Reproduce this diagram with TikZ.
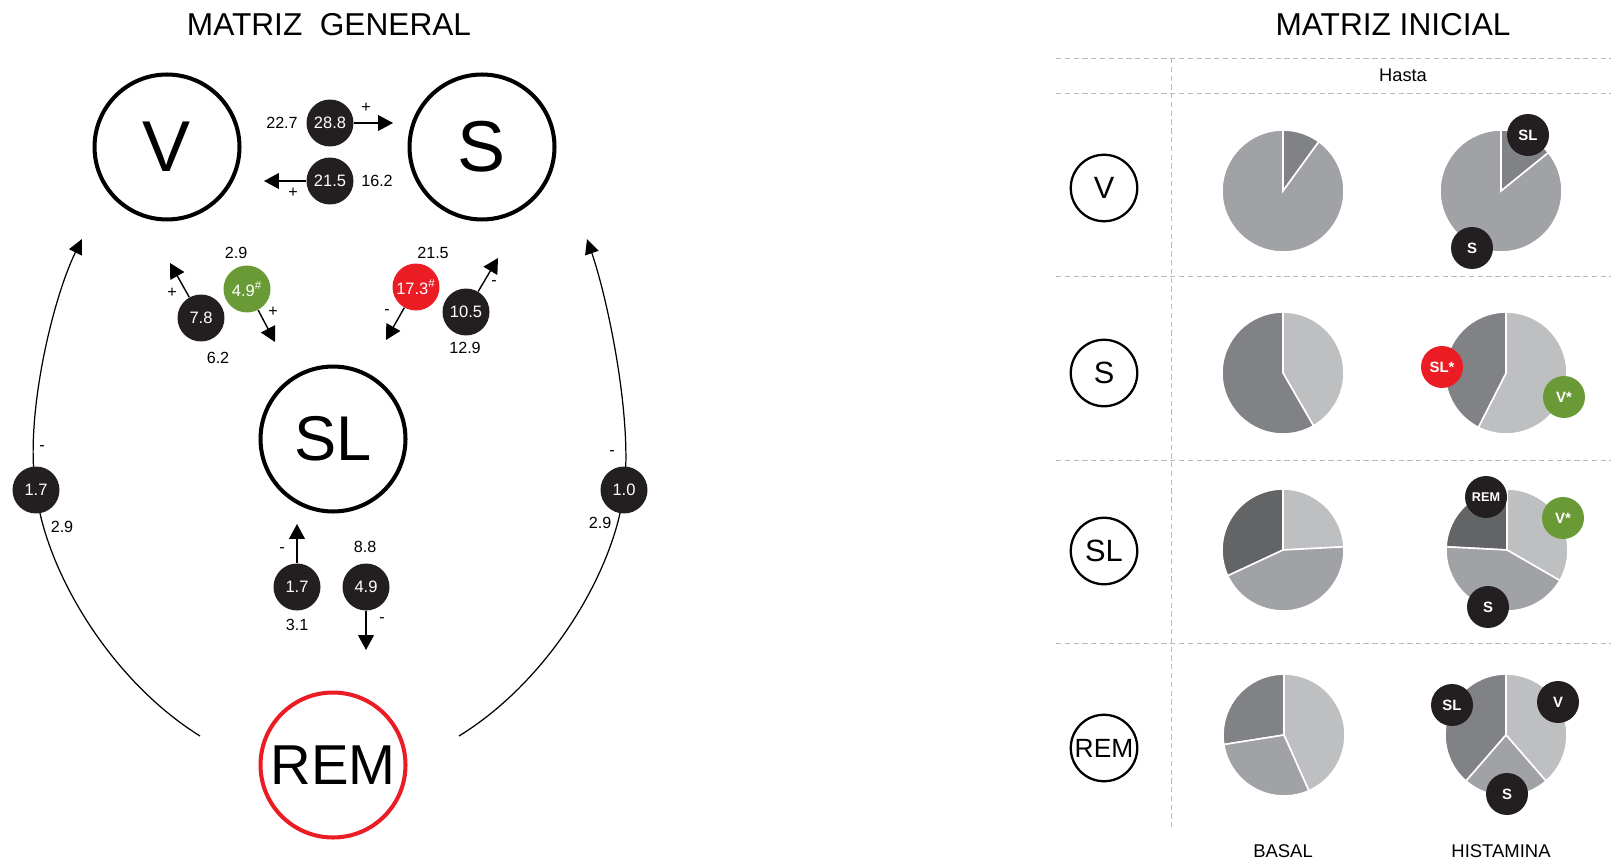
\documentclass[tikz,border=0pt]{standalone}
\usepackage{fontspec}
\setmainfont{Liberation Sans}
\usetikzlibrary{arrows.meta}

\definecolor{negro}{HTML}{231F20}
\definecolor{verde}{HTML}{6A9A35}
\definecolor{rojo}{HTML}{EC1C24}
\definecolor{gris1}{HTML}{636466}
\definecolor{gris2}{HTML}{808285}
\definecolor{gris3}{HTML}{A0A2A5}
\definecolor{gris4}{HTML}{BDBFC1}

% porcion de tarta: centro, angulo inicial, angulo final, color
\newcommand{\porcion}[4]{%
  \filldraw[fill=#4, draw=white, line width=0.9pt] (#1) -- ++({-(#2)}:61)
    arc[start angle={-(#2)}, end angle={-(#3)}, radius=61] -- cycle;}

\tikzset{
  titulo/.style={font=\fontsize{18}{20}\selectfont},
  grande/.style={circle, draw, line width=2.3pt, minimum size=2.9cm, inner sep=0pt},
  bola/.style={circle, fill=negro, text=white, minimum size=0.94cm, inner sep=0pt,
    font=\fontsize{9.4}{10}\selectfont},
  dato/.style={font=\fontsize{9.2}{10}\selectfont, inner sep=1pt},
  flecha/.style={line width=0.8pt, -{Triangle[length=8.5pt,width=9pt]}},
  arco/.style={line width=0.7pt, -{Triangle[length=8.5pt,width=8pt]}},
  fila/.style={circle, draw, line width=1.3pt, minimum size=1.33cm, inner sep=0pt,
    font=\fontsize{17.5}{20}\selectfont},
  marca/.style={circle, fill=negro, text=white, minimum size=0.84cm, inner sep=0pt,
    font=\bfseries\fontsize{8.5}{9}\selectfont},
  rejilla/.style={gray!55, line width=0.5pt, dash pattern=on 3pt off 2pt},
  pie/.style={font=\fontsize{10.5}{12}\selectfont},
}

\begin{document}
\begin{tikzpicture}[x=0.02cm, y=-0.02cm]
\useasboundingbox (0,0) rectangle (1611,861);

% titulos
\node[titulo] (tg) at (329,25) {MATRIZ~~GENERAL};
\node[titulo] (ti) at (1393,25) {MATRIZ INICIAL};

% estados
\node[grande, font=\fontsize{41}{44}\selectfont] (V) at (167,147) {V};
\node[grande, font=\fontsize{41}{44}\selectfont] (S) at (482,147) {S};
\node[grande, font=\fontsize{36}{40}\selectfont] (SL) at (333,439) {SL};
\node[grande, draw=rojo, font=\fontsize{32}{36}\selectfont] (REM) at (333,765) {REM};

% V <-> S
\node[bola] (vs) at (330,123) {28.8};
\node[bola] (sv) at (330,181) {21.5};
\coordinate (vs-f) at (393,123);
\coordinate (sv-f) at (264,181);
\draw[flecha] (vs) -- (vs-f);
\draw[flecha] (sv) -- (sv-f);
\node[dato] (vs-a) at (282,123) {22.7};
\node[dato] (vs-s) at (366,108) {+};
\node[dato] (sv-a) at (377,181) {16.2};
\node[dato] (sv-s) at (293,193) {+};

% V <-> SL
\node[bola] (vsl) at (201,318) {7.8};
\node[bola, fill=verde] (slv) at (247,289) {4.9\textsuperscript{\#}};
\coordinate (vsl-f) at (170,263);
\coordinate (slv-f) at (275,342);
\draw[flecha] (vsl) -- (vsl-f);
\draw[flecha] (slv) -- (slv-f);
\node[dato] (vsl-s) at (172,293) {+};
\node[dato] (vsl-a) at (218,358) {6.2};
\node[dato] (slv-a) at (236,253) {2.9};
\node[dato] (slv-s) at (273,312) {+};

% S <-> SL
\node[bola, fill=rojo] (ssl) at (416,287) {17.3\textsuperscript{\#}};
\node[bola] (sls) at (466,312) {10.5};
\coordinate (ssl-f) at (386,340);
\coordinate (sls-f) at (498,258);
\draw[flecha] (ssl) -- (ssl-f);
\draw[flecha] (sls) -- (sls-f);
\node[dato] (ssl-a) at (433,253) {21.5};
\node[dato] (ssl-s) at (387,312) {-};
\node[dato] (sls-s) at (494,283) {-};
\node[dato] (sls-a) at (465,348) {12.9};

% SL <-> REM
\node[bola] (slr) at (297,587) {1.7};
\node[bola] (rsl) at (366,587) {4.9};
\coordinate (slr-f) at (297,524);
\coordinate (rsl-f) at (366,650);
\draw[flecha] (slr) -- (slr-f);
\draw[flecha] (rsl) -- (rsl-f);
\node[dato] (slr-s) at (282,550) {-};
\node[dato] (slr-a) at (297,625) {3.1};
\node[dato] (rsl-a) at (365,547) {8.8};
\node[dato] (rsl-s) at (382,620) {-};

% REM -> V y REM -> S
\coordinate (rv-0) at (200,736);
\coordinate (rv-m) at (36,490);
\coordinate (rv-1) at (82,239);
\coordinate (rs-0) at (459,736);
\coordinate (rs-m) at (624,490);
\coordinate (rs-1) at (587,239);
\draw[arco] (rv-0) .. controls (110,680) and (45,570) .. (rv-m)
  .. controls (24,420) and (52,300) .. (rv-1);
\draw[arco] (rs-0) .. controls (550,680) and (615,570) .. (rs-m)
  .. controls (633,420) and (608,300) .. (rs-1);
\node[bola] (rv) at (rv-m) {1.7};
\node[bola] (rs) at (rs-m) {1.0};
\node[dato] (rv-s) at (42,448) {-};
\node[dato] (rv-a) at (62,527) {2.9};
\node[dato] (rs-s) at (612,453) {-};
\node[dato] (rs-a) at (600,523) {2.9};

% tabla
\foreach \y in {58,93,276,460,643}
  \draw[rejilla] (1056,\y) -- (1611,\y);
\draw[rejilla] (1171,58) -- (1171,827);
\node[font=\fontsize{10.4}{12}\selectfont] (hasta) at (1403,75) {Hasta};

\node[fila] (fV) at (1104,188) {V};
\node[fila] (fS) at (1104,373) {S};
\node[fila] (fSL) at (1104,551) {SL};
\node[fila, font=\fontsize{15}{16}\selectfont] (fREM) at (1104,748) {REM};

\coordinate (bV) at (1283,191);
\coordinate (hV) at (1501,191);
\coordinate (bS) at (1283,373);
\coordinate (hS) at (1506,373);
\coordinate (bSL) at (1283,550);
\coordinate (hSL) at (1507,550);
\coordinate (bREM) at (1284,735);
\coordinate (hREM) at (1506,735);

\porcion{bV}{54}{90}{gris2}
\porcion{bV}{90}{414}{gris3}
\porcion{hV}{39}{90}{gris2}
\porcion{hV}{90}{399}{gris3}

\porcion{bS}{-60}{90}{gris4}
\porcion{bS}{90}{300}{gris2}
\porcion{hS}{-117}{90}{gris4}
\porcion{hS}{90}{243}{gris2}

\porcion{bSL}{3}{90}{gris4}
\porcion{bSL}{90}{205}{gris1}
\porcion{bSL}{205}{363}{gris3}
\porcion{hSL}{-30}{90}{gris4}
\porcion{hSL}{90}{177}{gris1}
\porcion{hSL}{177}{330}{gris3}

\porcion{bREM}{-66}{90}{gris4}
\porcion{bREM}{90}{189}{gris2}
\porcion{bREM}{189}{294}{gris3}
\porcion{hREM}{-49}{90}{gris4}
\porcion{hREM}{90}{229}{gris2}
\porcion{hREM}{229}{311}{gris3}

% marcas de histamina
\node[marca] (mV-sl) at (1528,135) {SL};
\node[marca] (mV-s) at (1472,248) {S};
\node[marca, fill=rojo] (mS-sl) at (1442,367) {SL*};
\node[marca, fill=verde] (mS-v) at (1564,397) {V*};
\node[marca, font=\bfseries\fontsize{7.2}{8}\selectfont] (mSL-rem) at (1486,497) {REM};
\node[marca, fill=verde] (mSL-v) at (1563,518) {V*};
\node[marca] (mSL-s) at (1488,607) {S};
\node[marca] (mREM-sl) at (1452,705) {SL};
\node[marca] (mREM-v) at (1558,702) {V};
\node[marca] (mREM-s) at (1507,794) {S};

\node[pie] (basal) at (1283,851) {BASAL};
\node[pie] (hist) at (1501,851) {HISTAMINA};
\end{tikzpicture}
\end{document}
